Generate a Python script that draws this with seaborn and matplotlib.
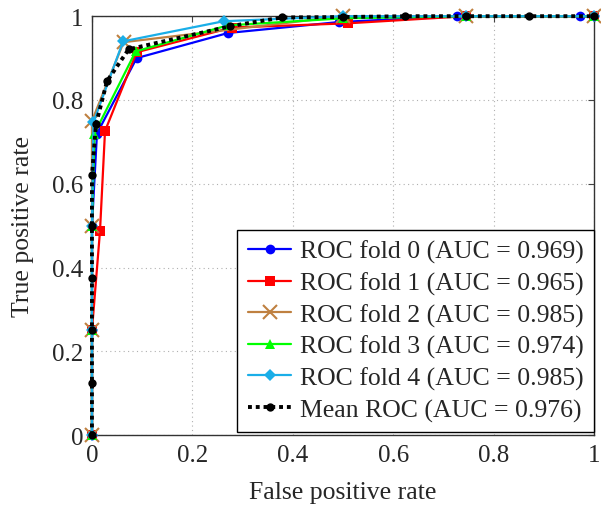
import numpy as np
import matplotlib
matplotlib.use('Agg')
import matplotlib.pyplot as plt
import seaborn as sns

# ROC points (fpr, tpr)
fpr_0 = [0, 0, 0, 0.01, 0.089, 0.271, 0.491, 0.727, 0.972, 1.0]
tpr_0 = [0, 0.25, 0.5, 0.72, 0.90, 0.96, 0.986, 1.0, 1.0, 1.0]
fpr_1 = [0, 0, 0.016, 0.026, 0.089, 0.279, 0.509, 0.745, 1.0]
tpr_1 = [0, 0.25, 0.487, 0.726, 0.914, 0.973, 0.983, 1.0, 1.0]
fpr_2 = [0, 0, 0, 0, 0.063, 0.5, 0.745, 1.0]
tpr_2 = [0, 0.25, 0.5, 0.75, 0.938, 1.0, 1.0, 1.0]
fpr_3 = [0, 0, 0, 0.005, 0.087, 0.27, 0.5, 0.745, 1.0]
tpr_3 = [0, 0.25, 0.5, 0.72, 0.916, 0.978, 0.995, 1.0, 1.0]
fpr_4 = [0, 0, 0, 0.003, 0.062, 0.262, 0.5, 0.745, 1.0]
tpr_4 = [0, 0.25, 0.5, 0.747, 0.94, 0.988, 1.0, 1.0, 1.0]
fpr_mean = [0, 0, 0, 0, 0, 0, 0.008, 0.03, 0.073, 0.275, 0.378, 0.5, 0.624, 0.745, 0.869, 1.0]
tpr_mean = [0, 0.125, 0.25, 0.375, 0.5, 0.62, 0.742, 0.845, 0.921, 0.976, 0.997, 0.998, 1.0, 1.0, 1.0, 1.0]

labels = ['ROC fold 0 (AUC = 0.969)', 'ROC fold 1 (AUC = 0.965)', 'ROC fold 2 (AUC = 0.985)',
          'ROC fold 3 (AUC = 0.974)', 'ROC fold 4 (AUC = 0.985)', 'Mean ROC (AUC = 0.976)']
colors = ['#0000ff', '#ff0000', '#bf8040', '#00ff00', '#1aaee8']
markers = ['o', 's', 'x', '^', 'D']
msizes = [7, 7, 10, 7, 6]
ticks = [0, 0.2, 0.4, 0.6, 0.8, 1.0]
tick_labels = ['0', '0.2', '0.4', '0.6', '0.8', '1']

sns.set_style('white')
plt.rcParams['font.family'] = ['Liberation Serif', 'DejaVu Serif']

fig = plt.figure(figsize=(6.01, 5.06), dpi=100)
ax = fig.add_axes([0.153, 0.138, 0.836, 0.828])

folds = [(fpr_0, tpr_0), (fpr_1, tpr_1), (fpr_2, tpr_2), (fpr_3, tpr_3), (fpr_4, tpr_4)]
for i, (fx, fy) in enumerate(folds):
    sns.lineplot(x=fx, y=fy, sort=False, estimator=None, ax=ax, color=colors[i],
                 marker=markers[i], markersize=msizes[i], markeredgewidth=1.5 if markers[i] == 'x' else 0,
                 markeredgecolor=colors[i], linewidth=1.6, label=labels[i], clip_on=False, zorder=3 + i)

sns.lineplot(x=fpr_mean, y=tpr_mean, sort=False, estimator=None, ax=ax, color='black',
             marker='o', markersize=6, markeredgewidth=0, linewidth=2.8, dashes=False,
             label=labels[5], clip_on=False, zorder=10)
ax.lines[-1].set_dashes([1, 1.0])

ax.set_xlim(0, 1)
ax.set_ylim(0, 1)
ax.set_xticks(ticks)
ax.set_xticklabels(tick_labels)
ax.set_yticks(ticks)
ax.set_yticklabels(tick_labels)
ax.tick_params(direction='in', length=4, width=0.8, color='#444444', labelsize=18,
               top=True, right=True, pad=6)
ax.grid(True, linestyle=(0, (1, 3)), color='#b0b0b0', linewidth=0.8)
for s in ax.spines.values():
    s.set_color('#333333')
    s.set_linewidth(1.0)

ax.set_xlabel('False positive rate', fontsize=18.5, labelpad=11)
ax.set_ylabel('True positive rate', fontsize=18.5, labelpad=13)

leg = ax.legend(loc='lower right', bbox_to_anchor=(1.0, 0.008), borderaxespad=0, fontsize=18.5,
                frameon=True, fancybox=False, edgecolor='black', framealpha=1,
                handlelength=1.7, handletextpad=0.35, labelspacing=0.32, borderpad=0.4)
leg.get_frame().set_linewidth(1.0)

fig.savefig('out.png', dpi=100)
